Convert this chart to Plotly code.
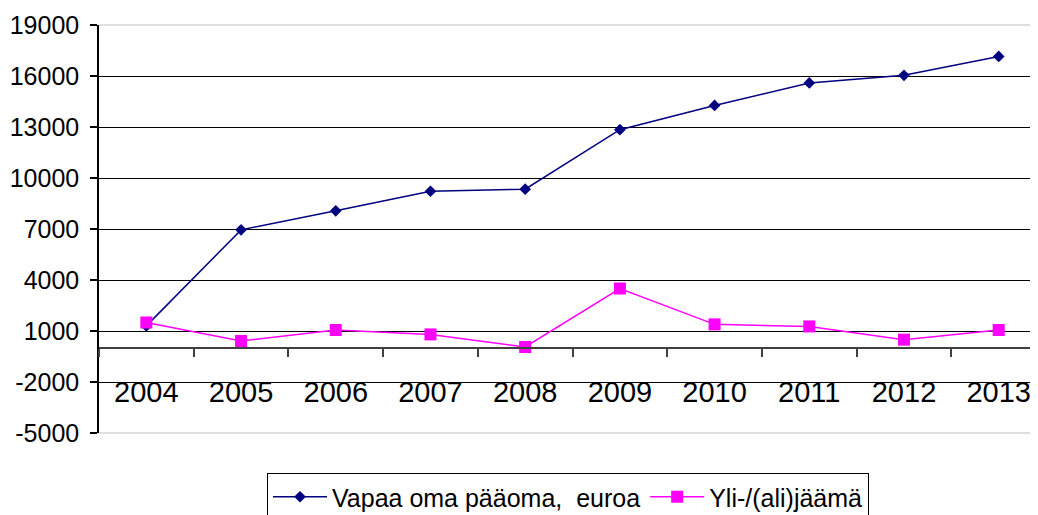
import plotly.graph_objects as go

years = ["2004", "2005", "2006", "2007", "2008", "2009", "2010", "2011", "2012", "2013"]
vapaa = [1300, 6950, 8070, 9220, 9340, 12840, 14270, 15590, 16040, 17150]
yli = [1500, 410, 1060, 800, 60, 3500, 1390, 1270, 490, 1060]
y_ticks = [-5000, -2000, 1000, 4000, 7000, 10000, 13000, 16000, 19000]

FONT = "Liberation Sans, Arial, sans-serif"
Y_MIN, Y_MAX = -5000, 19000

fig = go.Figure()
fig.add_trace(go.Scatter(
    x=years, y=vapaa, name="Vapaa oma pääoma,  euroa",
    mode="lines+markers",
    line=dict(color="#000080", width=1.5),
    marker=dict(symbol="diamond", size=9, color="#000080"),
))
fig.add_trace(go.Scatter(
    x=years, y=yli, name="Yli-/(ali)jäämä",
    mode="lines+markers",
    line=dict(color="#FF00FF", width=1.5),
    marker=dict(symbol="square", size=12, color="#FF00FF"),
))

zero_pos = (0 - Y_MIN) / (Y_MAX - Y_MIN)

# the page body adds an 8px offset, so the figure is sized to fill the remaining window
fig.update_layout(
    width=1030, height=507,
    margin=dict(l=91, r=0, t=17, b=82, autoexpand=False),
    paper_bgcolor="white", plot_bgcolor="white",
    font=dict(family=FONT, color="black"),
    showlegend=True,
    legend=dict(
        orientation="h",
        x=(267 - 99) / 939, xanchor="left",
        y=(433 - 473) / 408, yanchor="top",
        itemwidth=54,
        font=dict(size=25, family=FONT, color="black"),
        bordercolor="black", borderwidth=1, bgcolor="white",
    ),
    xaxis=dict(
        type="category",
        range=[-0.5, 9.415],
        anchor="free", position=zero_pos,
        automargin=False,
        showline=True, linecolor="#404040", linewidth=1.5,
        ticks="outside", tickson="boundaries", ticklen=8,
        tickcolor="#404040", tickwidth=1.5,
        showgrid=False, zeroline=False,
        tickfont=dict(size=29, family=FONT, color="black"),
        ticklabelstandoff=18,
    ),
    yaxis=dict(
        range=[Y_MIN, Y_MAX],
        tickvals=y_ticks,
        ticktext=[str(v) for v in y_ticks],
        automargin=False,
        showline=True, linecolor="black", linewidth=1.5,
        ticks="outside", ticklen=7, tickcolor="black", tickwidth=1.5,
        showgrid=True, gridcolor="black", gridwidth=1,
        zeroline=False,
        tickfont=dict(size=25, family=FONT, color="black"),
        ticklabelstandoff=6,
    ),
    shapes=[
        dict(type="line", xref="paper", yref="paper", x0=0, x1=1, y0=1, y1=1,
             line=dict(color="#c0c0c0", width=1), layer="above"),
        dict(type="line", xref="paper", yref="paper", x0=0, x1=1, y0=0, y1=0,
             line=dict(color="#c0c0c0", width=1), layer="above"),
    ],
)

fig.write_html("out.html")
